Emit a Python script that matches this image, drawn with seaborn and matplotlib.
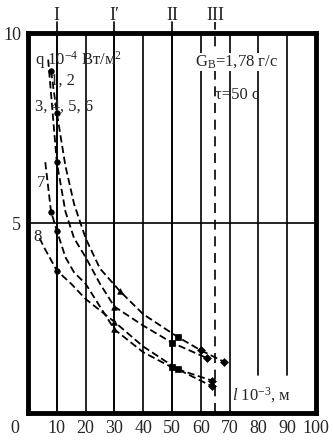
import numpy as np
import pandas as pd
import matplotlib
matplotlib.use("Agg")
import matplotlib.pyplot as plt
import matplotlib.transforms as mtransforms
import seaborn as sns

# curves (l*10^-3 m vs q*10^-4 W/m2)
c12_x = [8, 10, 13, 16, 20, 25, 32, 40, 52, 60, 68]
c12_y = [9.0, 7.9, 6.5, 5.5, 4.6, 3.8, 3.2, 2.6, 2.0, 1.65, 1.35]
c3456_x = [7, 10, 13, 16, 20, 25, 30, 40, 50, 62]
c3456_y = [9.3, 6.6, 5.3, 4.6, 4.1, 3.4, 2.8, 2.3, 1.85, 1.45]
c7_x = [6, 8, 10, 13, 16, 20, 25, 30, 40, 50, 64]
c7_y = [6.6, 5.3, 4.8, 4.1, 3.7, 3.4, 2.8, 2.2, 1.6, 1.2, 0.85]
c8_x = [4, 6, 10, 15, 20, 25, 30, 40, 52, 64]
c8_y = [4.6, 4.3, 3.75, 3.4, 3.0, 2.7, 2.4, 1.75, 1.15, 0.7]

curve_names = ['1, 2', '3, 4, 5, 6', '7', '8']
xticks = [0, 10, 20, 30, 40, 50, 60, 70, 80, 90, 100]
zones = {'I': 10, 'I\u2032': 30, 'II': 50, 'III': 65}

rows = []
for name, xs, ys in zip(curve_names, [c12_x, c3456_x, c7_x, c8_x], [c12_y, c3456_y, c7_y, c8_y]):
    for x, y in zip(xs, ys):
        rows.append({'curve': name, 'l': x, 'q': y})
df = pd.DataFrame(rows)

# experimental points sit near the zone lines
def mark_of(x):
    if 8 <= x <= 10:
        return 'o'
    if 29 <= x <= 32:
        return '^'
    if 50 <= x <= 52:
        return 's'
    if x >= 60:
        return 'D'
    return None
df['mark'] = df['l'].apply(mark_of)
pts = df.dropna(subset=['mark'])

sns.set_style("white")
plt.rcParams['font.family'] = ['Liberation Serif', 'DejaVu Serif']
plt.rcParams['mathtext.fontset'] = 'custom'
plt.rcParams['mathtext.rm'] = 'Liberation Serif'
plt.rcParams['mathtext.it'] = 'Liberation Serif:italic'

fig = plt.figure(figsize=(3.33, 4.47), dpi=100)
ax = fig.add_axes([28/333, 34/447, 288/333, 380/447])

# grid of vertical lines and the y=5 line
for x in xticks[1:-1]:
    ax.axvline(x, ymin=0.1 if x >= 80 else 0, color='black', lw=1.2, zorder=1)
ax.axhline(5, color='black', lw=1.2, zorder=1)
for lab, x in zones.items():
    ax.axvline(x, ymin=0, ymax=1.03, color='black', lw=1.2,
               ls=(0, (6, 4)) if lab == 'III' else '-', clip_on=False, zorder=1)
    ax.text(x, 1.047, lab, transform=ax.get_xaxis_transform(), ha='center', va='center',
            fontsize=13)

sns.lineplot(data=df, x='l', y='q', hue='curve', palette=['black'] * 4, sort=False,
             estimator=None, legend=False, ax=ax, lw=1.3, zorder=3)
for line in ax.get_lines()[-4:]:
    line.set_dashes([4, 2])

for m in ['o', '^', 's', 'D']:
    sub = pts[pts['mark'] == m]
    sns.scatterplot(data=sub, x='l', y='q', marker=m, color='black', s=16,
                    edgecolor='black', linewidth=0.5, legend=False, ax=ax, zorder=4)

ax.set_xlim(0, 100)
ax.set_ylim(0, 10)
ax.set_xticks(xticks)
ax.set_xticklabels([str(t) for t in xticks], fontsize=13)
ax.set_yticks([5, 10])
ax.set_yticklabels(['5', '10'], fontsize=13)
ax.tick_params(length=0, pad=5)
ax.set_xlabel('')
ax.set_ylabel('')
lab0 = ax.get_xticklabels()[0]
lab0.set_transform(lab0.get_transform() + mtransforms.ScaledTranslation(-13/100, 0, fig.dpi_scale_trans))
for s in ax.spines.values():
    s.set_linewidth(3.5)
    s.set_color('black')
    s.set_zorder(5)

ax.text(2.4, 9.3, r'q 10$^{-4}$ Вт/м$^{2}$', fontsize=12, va='center', ha='left', zorder=6)
ax.text(7.6, 8.75, '1, 2', fontsize=12, va='center', ha='left', zorder=6)
ax.text(2.4, 8.05, '3, 4, 5, 6', fontsize=12, va='center', ha='left', zorder=6)
ax.text(3.1, 6.05, '7', fontsize=12, va='center', ha='left', zorder=6)
ax.text(1.7, 4.63, '8', fontsize=12, va='center', ha='left', zorder=6)
ax.text(58, 9.24, r'G$_{\mathrm{В}}$=1,78 г/с', fontsize=12, va='center', ha='left', zorder=6,
        bbox=dict(facecolor='white', edgecolor='none', pad=0.5))
ax.text(65, 8.37, 'τ=50 с', fontsize=12, va='center', ha='left', zorder=6)
ax.text(71, 0.47, r'$l$ 10$^{-3}$, м', fontsize=12, va='center', ha='left', zorder=6,
        bbox=dict(facecolor='white', edgecolor='none', pad=1))

fig.savefig('out.png', dpi=100)
